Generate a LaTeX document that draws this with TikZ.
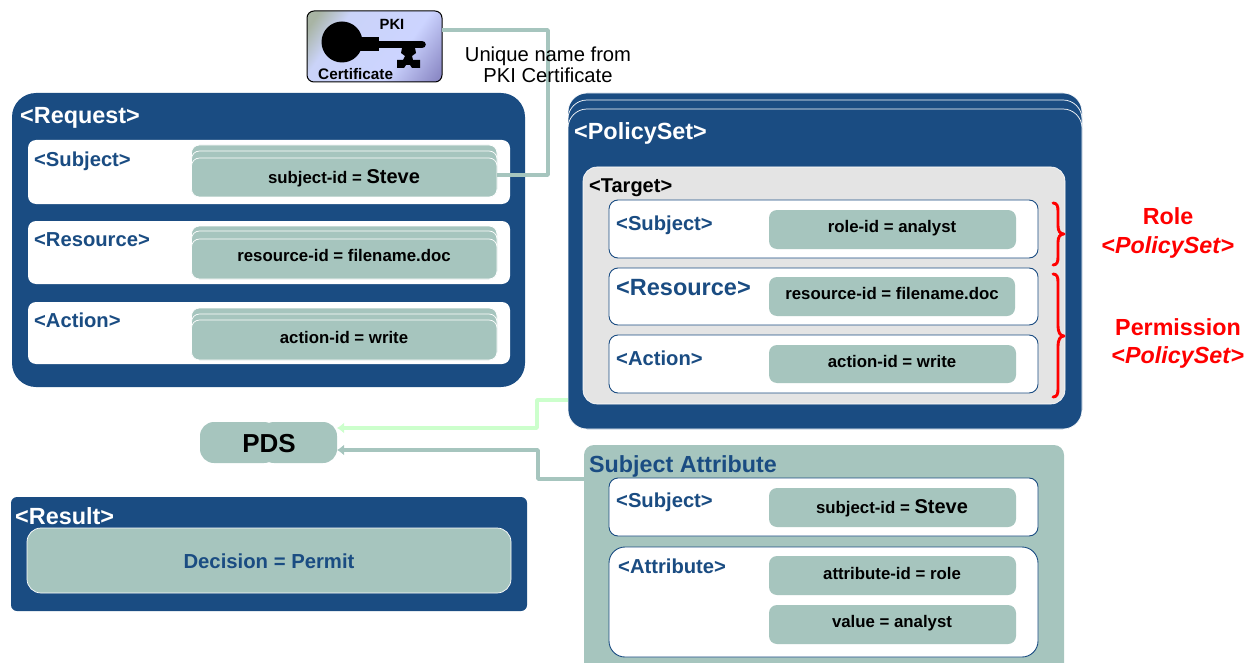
\documentclass[tikz,border=0pt]{standalone}
\usepackage{fontspec}
\setmainfont{Liberation Sans}
\usetikzlibrary{arrows.meta}
\definecolor{navy}{HTML}{1A4C82}
\definecolor{sage}{HTML}{A6C5BE}
\definecolor{mint}{HTML}{CCFFCC}
\definecolor{targetgray}{HTML}{E4E4E4}
\definecolor{certa}{HTML}{A8B4A4}
\definecolor{certb}{HTML}{CAD3F8}
\definecolor{certc}{HTML}{CCD4FF}
\definecolor{certd}{HTML}{8C8AC6}
\pgfdeclareverticalshading{certshade}{100bp}{color(0bp)=(certa);color(20bp)=(certa);color(32bp)=(certb);color(62bp)=(certc);color(82bp)=(certd);color(100bp)=(certd)}
\newcommand{\fsz}[1]{\fontsize{#1}{#1}\selectfont\bfseries}
% style, name, x1, y1, x2, y2
\newcommand{\Bx}[6]{%
  \pgfmathsetmacro{\bw}{#5-#3}\pgfmathsetmacro{\bh}{#6-#4}%
  \node[#1,anchor=north west,minimum width=\bw pt,minimum height=\bh pt] (#2) at (#3,#4) {};}
\tikzset{
  bx/.style={inner sep=0pt,outer sep=0pt,rectangle},
  navybox/.style={bx,fill=navy,rounded corners=24pt},
  layerbox/.style={bx,fill=navy,draw=white,line width=.7pt,rounded corners=19pt},
  reqrow/.style={bx,fill=white,rounded corners=8pt},
  polrow/.style={bx,fill=white,draw=navy,line width=.9pt,rounded corners=9pt},
  sagebox/.style={bx,fill=sage,rounded corners=8pt},
  stackbox/.style={bx,fill=sage,draw=white,line width=.7pt,rounded corners=8pt},
  lab/.style={anchor=base west,inner sep=0pt},
  mid/.style={anchor=base,inner sep=0pt},
  white20/.style={lab,text=white,font=\fsz{23.4}},
  navy20/.style={lab,text=navy,font=\fsz{20.2}},
  val/.style={mid,text=black,font=\fsz{16.8}},
  redlab/.style={mid,text=red,font=\fsz{23.3}},
  wire/.style={line width=3.6pt,line join=round},
  brace/.style={draw=red,line width=2.9pt,line cap=round,line join=round},
  tip/.style={-{Latex[length=7pt,width=11pt]}},
}
\begin{document}
\begin{tikzpicture}[x=1pt,y=-1pt]
\useasboundingbox (0,0) rectangle (1252,663);
\clip (0,0) rectangle (1252,663);

% ---- Request
\Bx{navybox}{req}{12}{93}{525}{387}
\node[white20] (reqt) at (20,124) {<Request>};
\Bx{reqrow}{rs}{28}{140}{510}{204}
\Bx{reqrow}{rr}{28}{221}{510}{284}
\Bx{reqrow}{ra}{28}{302}{510}{364}
\node[navy20] (rsl) at (34,167) {<Subject>};
\node[navy20] (rrl) at (34,246) {<Resource>};
\node[navy20] (ral) at (34,327) {<Action>};
\Bx{stackbox}{sa}{191.5}{145}{497}{197}
\Bx{stackbox}{sb}{191.5}{151}{497}{197}
\Bx{stackbox}{sid}{191.5}{158}{497}{197}
\node[val] (sidt) at (344,183) {subject-id = {\fontsize{20}{20}\selectfont Steve}};
\Bx{stackbox}{ra1}{191.5}{226}{497}{279}
\Bx{stackbox}{ra2}{191.5}{231}{497}{279}
\Bx{stackbox}{rid}{191.5}{239}{497}{279}
\node[val] (ridt) at (344,261) {resource-id = filename.doc};
\Bx{stackbox}{aa1}{191.5}{308}{497}{360}
\Bx{stackbox}{aa2}{191.5}{314}{497}{360}
\Bx{stackbox}{aid}{191.5}{320}{497}{360}
\node[val] (aidt) at (344,343) {action-id = write};

% ---- PolicySet
\Bx{layerbox}{ps1}{568}{93}{1082}{429}
\Bx{layerbox}{ps2}{568}{100}{1082}{429}
\Bx{layerbox}{ps3}{568}{109}{1082}{429}
\node[white20] (pst) at (574,140) {<PolicySet>};
\Bx{bx,fill=targetgray,draw=white,line width=.6pt,rounded corners=14pt}{tg}{583}{167}{1065}{404}
\node[lab,font=\fsz{20}] (tgl) at (589,193) {<Target>};
\Bx{polrow}{ts}{609}{200}{1038}{258}
\Bx{polrow}{tr}{609}{268}{1038}{325}
\Bx{polrow}{ta}{609}{335}{1038}{393}
\node[navy20] (tsl) at (616,230) {<Subject>};
\node[navy20,font=\fsz{23.5}] (trl) at (616,295) {<Resource>};
\node[navy20] (tal) at (616,365) {<Action>};
\Bx{sagebox}{tsv}{769}{210}{1016}{249}
\Bx{sagebox}{trv}{769}{277}{1015}{316}
\Bx{sagebox}{tav}{769}{345}{1016}{383}
\node[val] (tsvt) at (892,232) {role-id = analyst};
\node[val] (trvt) at (892,299) {resource-id = filename.doc};
\node[val] (tavt) at (892,367) {action-id = write};

% ---- red braces
\path[brace] (1053,203) .. controls (1057,203) and (1058,206) .. (1058,211) -- (1058,226) .. controls (1058,231) and (1060,234) .. (1064,234) .. controls (1060,234) and (1058,237) .. (1058,242) -- (1058,257) .. controls (1058,262) and (1057,265) .. (1053,265);
\path[brace] (1053,274) .. controls (1057,274) and (1058,277) .. (1058,282) -- (1058,326) .. controls (1058,332) and (1060,336) .. (1064,336) .. controls (1060,336) and (1058,340) .. (1058,346) -- (1058,389) .. controls (1058,394) and (1057,397) .. (1053,397);
\node[redlab] (role) at (1168,224) {Role};
\node[redlab] (rolep) at (1168,253) {<\textit{PolicySet}>};
\node[redlab] (perm) at (1178,335) {Permission};
\node[redlab] (permp) at (1178,363) {<\textit{PolicySet}>};

% ---- Subject Attribute
\Bx{bx,fill=sage,rounded corners=10pt}{sat}{584}{445}{1064}{690}
\node[lab,text=navy,font=\fsz{23.3}] (satl) at (589,472) {Subject Attribute};
\Bx{polrow}{ss}{609}{478}{1038}{536}
\Bx{bx,fill=white,draw=navy,line width=.9pt,rounded corners=16pt}{sb2}{609}{547}{1038}{657}
\node[navy20] (ssl) at (616,507) {<Subject>};
\node[navy20] (sal) at (618,573) {<Attribute>};
\Bx{sagebox}{ssv}{769}{488}{1016}{527}
\Bx{sagebox}{sav}{769}{556}{1016}{595}
\Bx{sagebox}{svv}{769}{605}{1016}{644}
\node[val] (ssvt) at (892,513) {subject-id = {\fontsize{20}{20}\selectfont Steve}};
\node[val] (savt) at (892,579) {attribute-id = role};
\node[val] (svvt) at (892,627) {value = analyst};

% ---- Result
\Bx{bx,fill=navy,rounded corners=6pt}{res}{11}{497}{527}{611}
\node[white20] (resl) at (15,524) {<Result>};
\Bx{bx,fill=sage,draw=white,line width=.7pt,rounded corners=14pt}{resv}{27}{528}{511}{593}
\node[mid,text=navy,font=\fsz{20.3}] (rest) at (269,568) {Decision = Permit};

% ---- PDS
\Bx{sagebox,rounded corners=14pt}{pdsl}{200}{422}{278}{463}
\Bx{sagebox,rounded corners=14pt}{pdsr}{260}{422}{337}{463}
\node[mid,font=\fsz{26}] (pdst) at (269,452) {PDS};

% ---- certificate
\Bx{bx,draw=black,line width=1pt,rounded corners=7pt,shading=certshade,shading angle=-125}{cert}{307}{11}{442}{82}
\fill[black] (342,42) circle (20.5);
\fill[black] (358,37) rectangle (379,51);
\draw[black,line width=7.6pt,line cap=round] (375,44.5) -- (422,44.5);
\fill[black] (402,48) -- (415,48) -- (416,53) -- (412,56) -- (413,60) -- (420,60) -- (420,68) -- (412,68) -- (410,65) -- (406,65) -- (404,68) -- (397,68) -- (397,60) -- (403,60) -- (405,56) -- (401,53) -- cycle;
\node[mid,font=\fsz{14.8}] (pki) at (392,30) {PKI};
\node[lab,font=\fsz{15.3}] (cfl) at (318,80) {Certificate};

% ---- connectors
\coordinate (certout) at (442,30);
\coordinate (bend) at (548,175);
\draw[wire,sage] (certout) -| (bend) -- (sid.east |- bend);
\coordinate (psout) at (568,400);
\coordinate (psbend) at (537,428);
\coordinate (pdsa) at (337,428);
\draw[wire,mint,tip] (psout) -| (psbend) -- (pdsa);
\coordinate (satout) at (584,479);
\coordinate (satbend) at (538,450);
\coordinate (pdsb) at (337,450);
\draw[wire,sage,tip] (satout) -| (satbend) -- (pdsb);

\node[anchor=center,align=center,inner sep=0pt,font=\fontsize{20.2}{21}\selectfont] (uniq) at (548,65) {Unique name from\\PKI Certificate};
\end{tikzpicture}
\end{document}
